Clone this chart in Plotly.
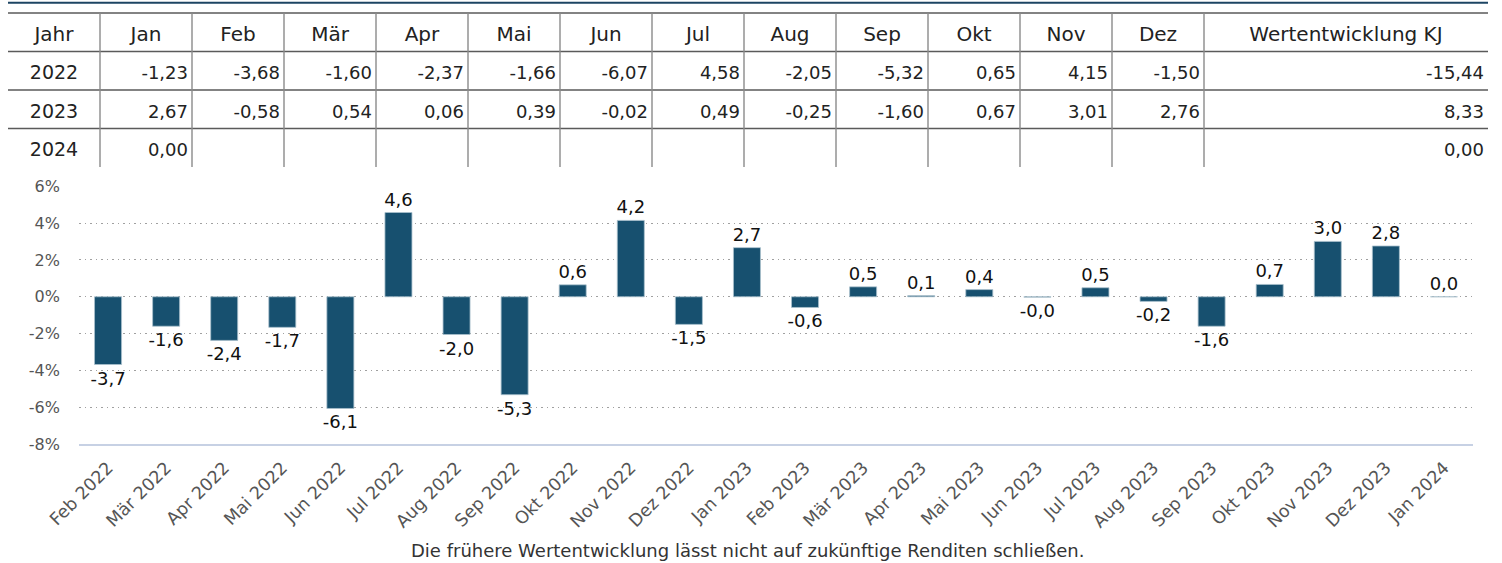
import plotly.graph_objects as go

# ---------------- data ----------------
months = ["Jan", "Feb", "Mär", "Apr", "Mai", "Jun", "Jul", "Aug", "Sep", "Okt", "Nov", "Dez"]
years = ["2022", "2023", "2024"]
r2022 = [-1.23, -3.68, -1.60, -2.37, -1.66, -6.07, 4.58, -2.05, -5.32, 0.65, 4.15, -1.50]
r2023 = [2.67, -0.58, 0.54, 0.06, 0.39, -0.02, 0.49, -0.25, -1.60, 0.67, 3.01, 2.76]
r2024 = [0.00]
kj = [-15.44, 8.33, 0.00]
header_first = "Jahr"
header_last = "Wertentwicklung KJ"

bar_labels = ["-3,7", "-1,6", "-2,4", "-1,7", "-6,1", "4,6", "-2,0", "-5,3", "0,6", "4,2", "-1,5",
              "2,7", "-0,6", "0,5", "0,1", "0,4", "-0,0", "0,5", "-0,2", "-1,6", "0,7", "3,0", "2,8",
              "0,0"]
y_tickvals = [-8, -6, -4, -2, 0, 2, 4, 6]
y_ticktext = ["-8%", "-6%", "-4%", "-2%", "0%", "2%", "4%", "6%"]
footnote = "Die frühere Wertentwicklung lässt nicht auf zukünftige Renditen schließen."

# bar series: Feb 2022 .. Jan 2024
bar_cats = [f"{m} 2022" for m in months[1:]] + [f"{m} 2023" for m in months] + [f"{m} 2024" for m in months[:len(r2024)]]
bar_values = r2022[1:] + r2023 + r2024

# ---------------- style ----------------
W, H = 1502, 563
FONT = "DejaVu Sans"
BAR_COLOR = "#17506f"
TXT = "#222222"


def fmt2(v):
    return f"{v:.2f}".replace(".", ",")


def py(px):  # pixel from top -> paper fraction
    return (H - px) / H


def px_(x):
    return x / W


fig = go.Figure()

fig.add_trace(go.Bar(
    x=bar_cats, y=bar_values, text=bar_labels, textposition="outside",
    constraintext="none", cliponaxis=False,
    marker=dict(color=BAR_COLOR, line=dict(color="#a9c0cd", width=0.8)),
    textfont=dict(family=FONT, size=18, color="#111111"),
    hoverinfo="skip", xaxis="x", yaxis="y", showlegend=False,
))

# ---------------- table (own axes) ----------------
col_w = [1.0] * 13 + [284 / 92]
edges = [0.0]
for w in col_w:
    edges.append(edges[-1] + w)
total = edges[-1]
centers = [(edges[i] + edges[i + 1]) / 2 for i in range(len(col_w))]
pad = 4 / 92
text_dy = 0.6

header = [header_first] + months + [header_last]
fig.add_trace(go.Scatter(
    x=centers, y=[text_dy] * len(header), text=header, mode="text",
    textposition="middle center", cliponaxis=False,
    textfont=dict(family=FONT, size=20, color=TXT),
    hoverinfo="skip", xaxis="x2", yaxis="y2", showlegend=False,
))

rows = [r2022, r2023, r2024]
for i, (yr, vals, k) in enumerate(zip(years, rows, kj)):
    r = i + 1 + text_dy
    fig.add_trace(go.Scatter(
        x=[centers[0]], y=[r], text=[yr], mode="text", textposition="middle center",
        cliponaxis=False, textfont=dict(family=FONT, size=19, color=TXT),
        hoverinfo="skip", xaxis="x2", yaxis="y2", showlegend=False,
    ))
    xs = [edges[j + 2] - pad for j in range(len(vals))] + [edges[-1] - pad]
    txt = [fmt2(v) for v in vals] + [fmt2(k)]
    fig.add_trace(go.Scatter(
        x=xs, y=[r] * len(xs), text=txt, mode="text", textposition="middle left",
        cliponaxis=False, textfont=dict(family=FONT, size=18, color=TXT),
        hoverinfo="skip", xaxis="x2", yaxis="y2", showlegend=False,
    ))

shapes = []
# top navy rule
shapes.append(dict(type="line", xref="x2", yref="y2", x0=0, x1=total, y0=-0.27, y1=-0.27,
                   line=dict(color="#1d4563", width=2.2)))
# horizontal rules
for yv in [0, 1, 2, 3]:
    shapes.append(dict(type="line", xref="x2", yref="y2", x0=0, x1=total, y0=yv, y1=yv,
                       line=dict(color="#5a5a5a", width=1.6)))
# vertical rules
for xv in edges[1:-1]:
    shapes.append(dict(type="line", xref="x2", yref="y2", x0=xv, x1=xv, y0=0, y1=4,
                       line=dict(color="#8a8a8a", width=1.4)))

fig.update_layout(
    width=W, height=H,
    margin=dict(l=0, r=0, t=0, b=0, autoexpand=False),
    paper_bgcolor="white", plot_bgcolor="white",
    bargap=0.535,
    font=dict(family=FONT),
    shapes=shapes,
    xaxis=dict(
        domain=[px_(79), px_(1473)], type="category", range=[-0.5, len(bar_cats) - 0.5],
        tickangle=-45, tickfont=dict(family=FONT, size=17.5, color="#555555"),
        showgrid=False, zeroline=False, showline=True, linecolor="#c7d1e4", linewidth=1.5,
        ticks="", ticklabelstandoff=5, anchor="y", automargin=False,
    ),
    yaxis=dict(
        domain=[py(444), py(186)], range=[-8, 6.02],
        tickvals=y_tickvals, ticktext=y_ticktext,
        tickfont=dict(family=FONT, size=16, color="#555555"),
        showgrid=True, gridcolor="#a0a0a0", griddash="1.5px,4px", gridwidth=1.2,
        zeroline=False, showline=False, ticks="", ticklabelstandoff=18, anchor="x",
        automargin=False,
    ),
    xaxis2=dict(domain=[px_(8), px_(1488)], range=[0, total], visible=False, anchor="y2",
                automargin=False),
    yaxis2=dict(domain=[py(13 + 4 * 38.5), py(13 - 0.3 * 38.5)], range=[4, -0.3], visible=False,
                anchor="x2", automargin=False),
    annotations=[dict(
        text=footnote, xref="paper", yref="paper", x=0.4977, y=py(550),
        xanchor="center", yanchor="middle", showarrow=False,
        font=dict(family=FONT, size=18, color="#333333"),
    )],
)

fig.write_html("out.html", config={"displayModeBar": False},
               post_script="document.body.style.margin='0';")
